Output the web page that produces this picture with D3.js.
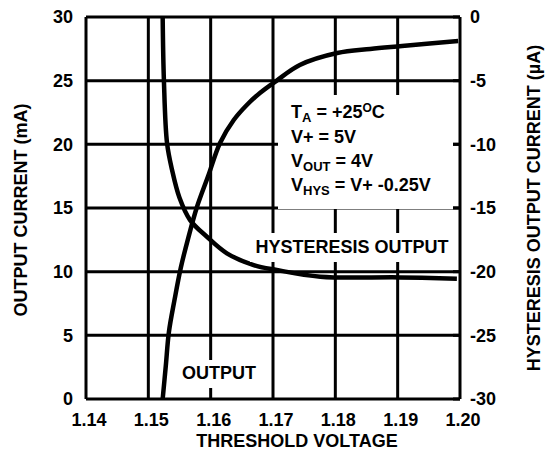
<!DOCTYPE html>
<html>
<head>
<meta charset="utf-8">
<script src="https://cdn.jsdelivr.net/npm/d3@7"></script>
<style>
  body { margin: 0; background: #fff; }
  svg text { font-family: "Liberation Sans", Arial, sans-serif; font-weight: bold; fill: #000; }
</style>
</head>
<body>
<svg id="chart" width="549" height="462"></svg>
<script>
// tick values
var xTicks = [1.14, 1.15, 1.16, 1.17, 1.18, 1.19, 1.20];
var leftTicks = [0, 5, 10, 15, 20, 25, 30];
var rightTicks = [0, -5, -10, -15, -20, -25, -30];

// OUTPUT curve (mA, left axis)
var outV  = [1.1523, 1.1528, 1.1533, 1.1542, 1.1552, 1.1564, 1.1578, 1.1596, 1.1615, 1.1637, 1.1658, 1.1679, 1.1705, 1.1743, 1.1803, 1.1856, 1.1907, 1.1997];
var outMA = [0, 2.59, 5.26, 7.78, 10.29, 12.64, 15.08, 17.51, 20.11, 21.91, 23.09, 24.03, 24.97, 26.23, 27.17, 27.49, 27.72, 28.12];

// HYSTERESIS OUTPUT curve (uA, right axis)
var hysV  = [1.1523, 1.1525, 1.1530, 1.1538, 1.1550, 1.1567, 1.1594, 1.1626, 1.1669, 1.1706, 1.1776, 1.1904, 1.1995];
var hysUA = [0, -5.0, -9.9, -12.0, -14.2, -15.95, -17.26, -18.56, -19.48, -19.87, -20.4, -20.45, -20.55];

var margin = {top: 17, right: 89, bottom: 63, left: 86};
var W = 549, H = 462;
var w = W - margin.left - margin.right;
var h = H - margin.top - margin.bottom;

var svg = d3.select('#chart');
var g = svg.append('g').attr('transform', 'translate(' + margin.left + ',' + margin.top + ')');

var x = d3.scaleLinear().domain([1.14, 1.20]).range([0, w]);
var yL = d3.scaleLinear().domain([0, 30]).range([h, 0]);
var yR = d3.scaleLinear().domain([-30, 0]).range([h, 0]);

// grid
g.selectAll('.vgrid').data(xTicks).enter().append('line')
  .attr('x1', function(d){ return x(d); }).attr('x2', function(d){ return x(d); })
  .attr('y1', 0).attr('y2', h)
  .attr('stroke', '#000').attr('stroke-width', 3);
g.selectAll('.hgrid').data(leftTicks).enter().append('line')
  .attr('x1', 0).attr('x2', w)
  .attr('y1', function(d){ return yL(d); }).attr('y2', function(d){ return yL(d); })
  .attr('stroke', '#000').attr('stroke-width', 3);

// white boxes behind labels (break the grid)
function blank(x0, y0, x1, y1) {
  svg.append('rect').attr('x', x0).attr('y', y0).attr('width', x1 - x0).attr('height', y1 - y0).attr('fill', '#fff');
}
blank(278, 95, 453, 209);
blank(250, 233, 455, 262);
blank(180, 360, 258, 388);

// right axis tick stubs
g.selectAll('.rtick').data(rightTicks).enter().append('line')
  .attr('x1', w - 7).attr('x2', w)
  .attr('y1', function(d){ return yR(d); }).attr('y2', function(d){ return yR(d); })
  .attr('stroke', '#000').attr('stroke-width', 3);

// curves
var lineOut = d3.line().x(function(d){ return x(d[0]); }).y(function(d){ return yL(d[1]); }).curve(d3.curveCatmullRom);
var lineHys = d3.line().x(function(d){ return x(d[0]); }).y(function(d){ return yR(d[1]); }).curve(d3.curveCatmullRom);

g.append('path').datum(d3.zip(outV, outMA)).attr('d', lineOut)
  .attr('fill', 'none').attr('stroke', '#000').attr('stroke-width', 4.5);
g.append('path').datum(d3.zip(hysV, hysUA)).attr('d', lineHys)
  .attr('fill', 'none').attr('stroke', '#000').attr('stroke-width', 4.5);

// tick labels
g.selectAll('.xl').data(xTicks).enter().append('text')
  .attr('x', function(d){ return x(d) + 3; }).attr('y', h + 27)
  .attr('text-anchor', 'middle').attr('font-size', 18)
  .text(function(d){ return d3.format('.2f')(d); });
g.selectAll('.yl').data(leftTicks).enter().append('text')
  .attr('x', -13).attr('y', function(d){ return yL(d); }).attr('dy', '0.35em')
  .attr('text-anchor', 'end').attr('font-size', 18)
  .text(function(d){ return d; });
g.selectAll('.yr').data(rightTicks).enter().append('text')
  .attr('x', w + 10).attr('y', function(d){ return yR(d); }).attr('dy', '0.35em')
  .attr('text-anchor', 'start').attr('font-size', 18)
  .text(function(d){ return d; });

// axis titles
svg.append('text').attr('x', 297).attr('y', 447).attr('text-anchor', 'middle').attr('font-size', 18)
  .text('THRESHOLD VOLTAGE');
svg.append('text').attr('transform', 'translate(27,210) rotate(-90)').attr('text-anchor', 'middle').attr('font-size', 18)
  .text('OUTPUT CURRENT (mA)');
svg.append('text').attr('transform', 'translate(540,208) rotate(-90)').attr('text-anchor', 'middle').attr('font-size', 18)
  .text('HYSTERESIS OUTPUT CURRENT (\u00b5A)');

// curve labels
svg.append('text').attr('x', 219).attr('y', 379).attr('text-anchor', 'middle').attr('font-size', 18).text('OUTPUT');
svg.append('text').attr('x', 352).attr('y', 253).attr('text-anchor', 'middle').attr('font-size', 18).text('HYSTERESIS OUTPUT');

// conditions
var cond = svg.append('g').attr('font-size', 18);
var t1 = cond.append('text').attr('x', 291).attr('y', 118);
t1.append('tspan').text('T');
t1.append('tspan').attr('font-size', 13).attr('dy', 4).text('A');
t1.append('tspan').attr('dy', -4).text(' = +25');
t1.append('tspan').attr('font-size', 12).attr('dy', -6).text('O');
t1.append('tspan').attr('dy', 6).text('C');
cond.append('text').attr('x', 291).attr('y', 143).text('V+ = 5V');
var t3 = cond.append('text').attr('x', 291).attr('y', 167);
t3.append('tspan').text('V');
t3.append('tspan').attr('font-size', 13).attr('dy', 4).text('OUT');
t3.append('tspan').attr('dy', -4).text(' = 4V');
var t4 = cond.append('text').attr('x', 291).attr('y', 191);
t4.append('tspan').text('V');
t4.append('tspan').attr('font-size', 13).attr('dy', 4).text('HYS');
t4.append('tspan').attr('dy', -4).text(' = V+ -0.25V');
</script>
</body>
</html>
